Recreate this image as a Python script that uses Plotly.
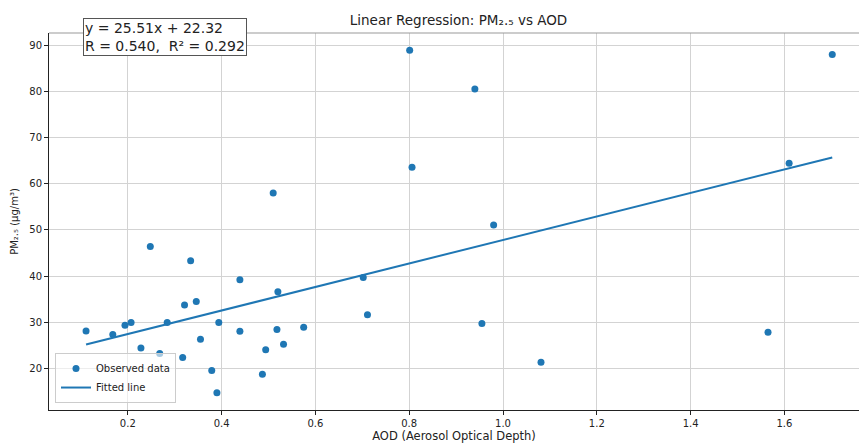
import plotly.graph_objects as go

aod = [0.111, 0.168, 0.194, 0.207, 0.228, 0.248, 0.268, 0.284, 0.317, 0.321,
       0.334, 0.346, 0.355, 0.379, 0.390, 0.394, 0.439, 0.439, 0.487, 0.494,
       0.518, 0.520, 0.532, 0.575, 0.702, 0.711, 0.801, 0.806, 0.510, 0.940,
       1.702, 1.610, 0.980, 0.955, 1.081, 1.565]
pm25 = [28.1, 27.3, 29.3, 29.9, 24.4, 46.4, 23.2, 29.9, 22.3, 33.7,
        43.3, 34.5, 26.3, 19.5, 14.7, 29.9, 39.2, 28.0, 18.7, 24.0,
        28.4, 36.6, 25.2, 28.9, 39.7, 31.6, 89.0, 63.6, 58.0, 80.6,
        88.1, 64.5, 51.1, 29.7, 21.3, 27.8]
slope = 25.51
intercept = 22.32
r_value = 0.540
r2_value = 0.292

x_ticks = [0.2, 0.4, 0.6, 0.8, 1.0, 1.2, 1.4, 1.6]
y_ticks = [20, 30, 40, 50, 60, 70, 80, 90]

x_fit = [min(aod), max(aod)]
y_fit = [slope * v + intercept for v in x_fit]

blue = "#1f77b4"
font = "DejaVu Sans, sans-serif"

fig = go.Figure()
fig.add_trace(go.Scatter(x=aod, y=pm25, mode="markers", name="Observed data",
                         marker=dict(color=blue, size=7)))
fig.add_trace(go.Scatter(x=x_fit, y=y_fit, mode="lines", name="Fitted line",
                         line=dict(color=blue, width=2)))

W, H = 859, 443
L, R, T, B = 49, 0, 33, 31
pw = W - L - R
ph = H - T - B

fig.update_layout(
    width=W, height=H,
    margin=dict(l=L, r=R, t=T, b=B),
    paper_bgcolor="white", plot_bgcolor="white",
    font=dict(family=font, size=10, color="#222"),
    title=dict(text="Linear Regression: PM₂.₅ vs AOD", x=(458.5 - L) / pw, xref="paper",
               xanchor="center", y=1 - 20 / H, yanchor="middle",
               font=dict(size=13.5, color="#222")),
    showlegend=True,
    legend=dict(x=(55 - L) / pw, y=(412 - 405) / ph, xanchor="left", yanchor="bottom",
                bgcolor="rgba(255,255,255,0.6)", bordercolor="#cccccc", borderwidth=1,
                font=dict(size=10, color="#222"), tracegroupgap=0, itemwidth=30),
    xaxis=dict(range=[0.032, 1.759], tickvals=x_ticks, ticktext=[f"{v:.1f}" for v in x_ticks],
               showgrid=True, gridcolor="#d3d3d3", gridwidth=1,
               showline=True, linecolor="#222", linewidth=1,
               ticks="outside", ticklen=4, tickcolor="#222",
               zeroline=False,
               title=dict(text="AOD (Aerosol Optical Depth)", font=dict(size=11.5, color="#222"),
                          standoff=6)),
    yaxis=dict(range=[10.93, 92.74], tickvals=y_ticks,
               showgrid=True, gridcolor="#d3d3d3", gridwidth=1,
               showline=True, linecolor="#222", linewidth=1,
               ticks="outside", ticklen=4, tickcolor="#222",
               zeroline=False,
               title=dict(text="PM₂.₅ (μg/m³)", font=dict(size=10, color="#222"), standoff=8)),
)

fig.add_shape(type="line", xref="paper", yref="paper", x0=0, x1=1, y0=1, y1=1,
              line=dict(color="#999999", width=1))

fig.add_annotation(
    xref="paper", yref="paper", x=(83 - L) / pw, y=(412 - 18) / ph,
    xanchor="left", yanchor="top", align="left", showarrow=False,
    text=f"y = {slope:.2f}x + {intercept:.2f}<br>R = {r_value:.3f},  R² = {r2_value:.3f}",
    font=dict(size=14, color="#222"),
    bgcolor="white", bordercolor="#555555", borderwidth=1, borderpad=1,
)

fig.write_html("out.html")
